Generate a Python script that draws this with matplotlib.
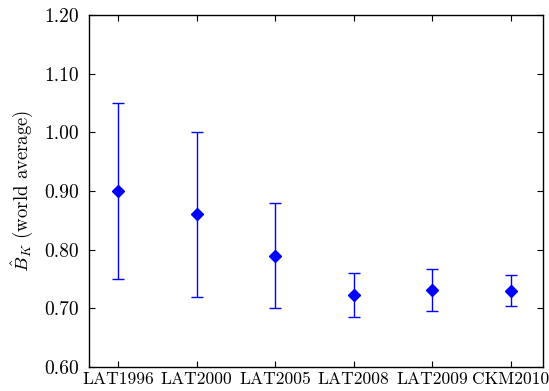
import numpy as np
import matplotlib
matplotlib.use("Agg")
import matplotlib.pyplot as plt

plt.rcParams["font.family"] = "serif"
plt.rcParams["font.serif"] = ["cmr10", "DejaVu Serif"]
plt.rcParams["mathtext.fontset"] = "cm"
plt.rcParams["axes.unicode_minus"] = False

labels = ["LAT1996", "LAT2000", "LAT2005", "LAT2008", "LAT2009", "CKM2010"]
bk = [0.90, 0.86, 0.79, 0.723, 0.731, 0.730]
err_up = [0.15, 0.14, 0.09, 0.037, 0.036, 0.026]
err_dn = [0.15, 0.14, 0.09, 0.037, 0.036, 0.026]
yticks = [0.60, 0.70, 0.80, 0.90, 1.00, 1.10, 1.20]

fig = plt.figure(figsize=(5.49, 3.91), dpi=100)
ax = fig.add_axes([89 / 549, 1 - 367 / 391, (543 - 89) / 549, (367 - 15) / 391])

x = np.arange(len(labels))
ax.errorbar(x, bk, yerr=[err_dn, err_up], fmt="D", color="blue", ms=6.5,
            ecolor="blue", elinewidth=1, capsize=4, capthick=1)

ax.set_xlim(-0.37, 5.41)
ax.set_ylim(0.60, 1.20)
ax.set_xticks(x)
ax.set_xticklabels(labels)
ax.set_yticks(yticks)
ax.set_yticklabels([f"{v:.2f}" for v in yticks])
ax.set_ylabel(r"$\hat{B}_K$ (world average)", fontsize=13.5, labelpad=7)
ax.tick_params(direction="in", top=True, right=True, length=4)
ax.tick_params(axis="y", pad=7, labelsize=14)
ax.tick_params(axis="x", pad=3.5, labelsize=12.6)
for s in ax.spines.values():
    s.set_linewidth(1)

fig.savefig("out.png", dpi=100)
